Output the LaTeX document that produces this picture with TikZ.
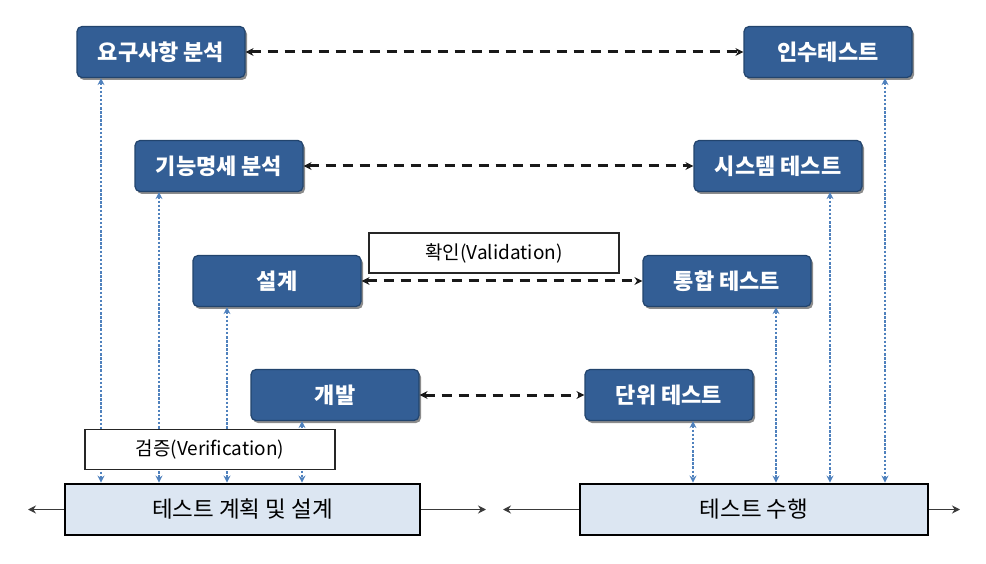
\documentclass[tikz,border=0pt]{standalone}
\usepackage{fontspec}
\setmainfont{Noto Sans CJK KR}
\usetikzlibrary{arrows.meta,shadows}

\definecolor{stagefill}{HTML}{335E95}
\definecolor{stageedge}{HTML}{22446D}
\definecolor{tracecol}{HTML}{4F81BD}
\definecolor{basefill}{HTML}{DCE6F2}
\definecolor{sidecol}{HTML}{3A3A3A}

\tikzset{
  stage/.style={draw=stageedge, line width=1.2pt, fill=stagefill, rounded corners=5pt,
    minimum width=168pt, minimum height=51pt, inner sep=0pt,
    text=white, font=\fontsize{22}{26}\selectfont\bfseries,
    drop shadow={shadow xshift=2pt, shadow yshift=-2.5pt, opacity=0.45, fill=black}},
  tag/.style={draw=black!85, line width=1.8pt, fill=white, minimum width=250pt,
    minimum height=40pt, inner sep=0pt, font=\fontsize{19}{22}\selectfont},
  base/.style={draw=black, line width=2.8pt, fill=basefill, minimum height=51pt,
    inner sep=0pt, font=\fontsize{22.5}{26}\selectfont},
  pair/.style={draw=black!90, line width=3pt, dash pattern=on 10pt off 7pt,
    {Stealth[length=8pt,width=8pt]}-{Stealth[length=8pt,width=8pt]}},
  trace/.style={draw=tracecol, line width=1.6pt, dash pattern=on 2.5pt off 1.6pt,
    {Stealth[length=7pt,width=7pt]}-{Stealth[length=7pt,width=7pt]}},
  side/.style={draw=sidecol, line width=1.6pt, -{Stealth[length=8pt,width=8pt]}}
}

\begin{document}
\begin{tikzpicture}[x=1pt,y=-1pt]
\useasboundingbox (0,0) rectangle (986,564);

% development-side stages
\node[stage] (req) at (161,52)  {요구사항 분석};
\node[stage] (spec) at (219,166) {기능명세 분석};
\node[stage] (des) at (277,281) {설계};
\node[stage] (dev) at (335,395) {개발};

% test-side stages
\node[stage] (acc) at (828,52)  {인수테스트};
\node[stage] (sys) at (778,166) {시스템 테스트};
\node[stage] (int) at (727,281) {통합 테스트};
\node[stage] (unit) at (669,395) {단위 테스트};

% bottom bars
\node[base, minimum width=355pt] (plan) at (242.5,509.5) {테스트 계획 및 설계};
\node[base, minimum width=348pt] (run) at (754,509.5) {테스트 수행};

% validation links between matching stages
\draw[pair] (req.east) -- (acc.west);
\draw[pair] (spec.east) -- (sys.west);
\draw[pair] (des.east) -- (int.west);
\draw[pair] (dev.east) -- (unit.west);

% traces from each stage down to the bars
\draw[trace] (req.south -| 101,0) -- (plan.north -| 101,0);
\draw[trace] (spec.south -| 159,0) -- (plan.north -| 159,0);
\draw[trace] (des.south -| 227,0) -- (plan.north -| 227,0);
\draw[trace] (dev.south -| 302,0) -- (plan.north -| 302,0);
\draw[trace] (unit.south -| 693,0) -- (run.north -| 693,0);
\draw[trace] (int.south -| 776,0) -- (run.north -| 776,0);
\draw[trace] (sys.south -| 830,0) -- (run.north -| 830,0);
\draw[trace] (acc.south -| 885,0) -- (run.north -| 885,0);

% labels
\node[tag] (val) at (494,253) {확인(Validation)};
\node[tag] (ver) at (210,449.5) {검증(Verification)};

% side arrows of the bars
\coordinate (pl) at (28,509.5);
\coordinate (pr) at (486,509.5);
\coordinate (rl) at (503,509.5);
\coordinate (rr) at (960,509.5);
\draw[side] (plan.west) -- (pl);
\draw[side] (plan.east) -- (pr);
\draw[side] (run.west) -- (rl);
\draw[side] (run.east) -- (rr);
\end{tikzpicture}
\end{document}
